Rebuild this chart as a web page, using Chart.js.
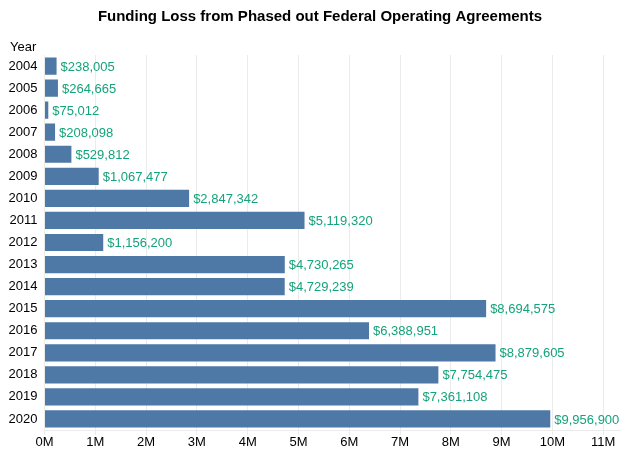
<!DOCTYPE html>
<html>
<head>
<meta charset="utf-8">
<script src="https://cdn.jsdelivr.net/npm/chart.js@4/dist/chart.umd.min.js"></script>
<style>
  html, body { margin: 0; padding: 0; background: #fff; }
  #wrap { width: 630px; height: 466px; }
</style>
</head>
<body>
<div id="wrap"><canvas id="chart0" width="630" height="466"></canvas></div>
<script>
// data
var years = ["2004", "2005", "2006", "2007", "2008", "2009", "2010", "2011", "2012",
	"2013", "2014", "2015", "2016", "2017", "2018", "2019", "2020"];
var fundingLoss = [238005, 264665, 75012, 208098, 529812, 1067477, 2847342, 5119320, 1156200,
	4730265, 4729239, 8694575, 6388951, 8879605, 7754475, 7361108, 9956900];
var xTicks = [0, 1, 2, 3, 4, 5, 6, 7, 8, 9, 10, 11];

var fontFamily = "'Liberation Sans', Arial, Helvetica, sans-serif";

function money(v) {
	return "$" + v.toLocaleString("en-US");
}

// title, "Year" header and the value labels at bar ends
var labelPlugin = {
	id: "labels",
	afterDatasetsDraw: function(chart) {
		var ctx = chart.ctx;
		ctx.save();
		ctx.fillStyle = "#000";
		ctx.font = "bold 15px " + fontFamily;
		ctx.textAlign = "center";
		ctx.textBaseline = "middle";
		ctx.fillText("Funding Loss from Phased out Federal Operating Agreements", 320, 17);

		ctx.font = "13px " + fontFamily;
		ctx.textAlign = "left";
		ctx.fillText("Year", 10, 47);

		ctx.fillStyle = "#14a37a";
		var meta = chart.getDatasetMeta(0);
		meta.data.forEach(function(bar, i) {
			ctx.fillText(money(fundingLoss[i]), bar.x + 4, bar.y + 1);
		});
		ctx.restore();
	}
};

var chart0 = new Chart("chart0", {
	type: "bar",
	data: {
		labels: years,
		datasets: [{
			data: fundingLoss,
			backgroundColor: "#4e79a7",
			barPercentage: 0.78,
			categoryPercentage: 1.0
		}]
	},
	options: {
		indexAxis: "y",
		responsive: false,
		animation: false,
		layout: { padding: { top: 55, right: 10, left: 0, bottom: 0 } },
		plugins: {
			legend: { display: false },
			tooltip: { enabled: false },
			title: { display: false }
		},
		scales: {
			x: {
				min: 0,
				max: 11330000,
				afterBuildTicks: function(scale) {
					scale.ticks = xTicks.map(function(t) { return { value: t * 1e6 }; });
				},
				afterFit: function(scale) { scale.height = 36; },
				grid: { color: "#ebebeb", tickLength: 5, tickColor: "#ebebeb" },
				border: { color: "#ebebeb" },
				ticks: {
					color: "#000",
					padding: 0,
					maxRotation: 0,
					font: { family: fontFamily, size: 13 },
					callback: function(v) { return (v / 1e6) + "M"; }
				}
			},
			y: {
				afterFit: function(scale) { scale.width = 44.5; },
				grid: { display: false, drawTicks: false },
				border: { display: false },
				ticks: {
					color: "#000",
					padding: 7,
					font: { family: fontFamily, size: 13 }
				}
			}
		}
	},
	plugins: [labelPlugin]
});
</script>
</body>
</html>
